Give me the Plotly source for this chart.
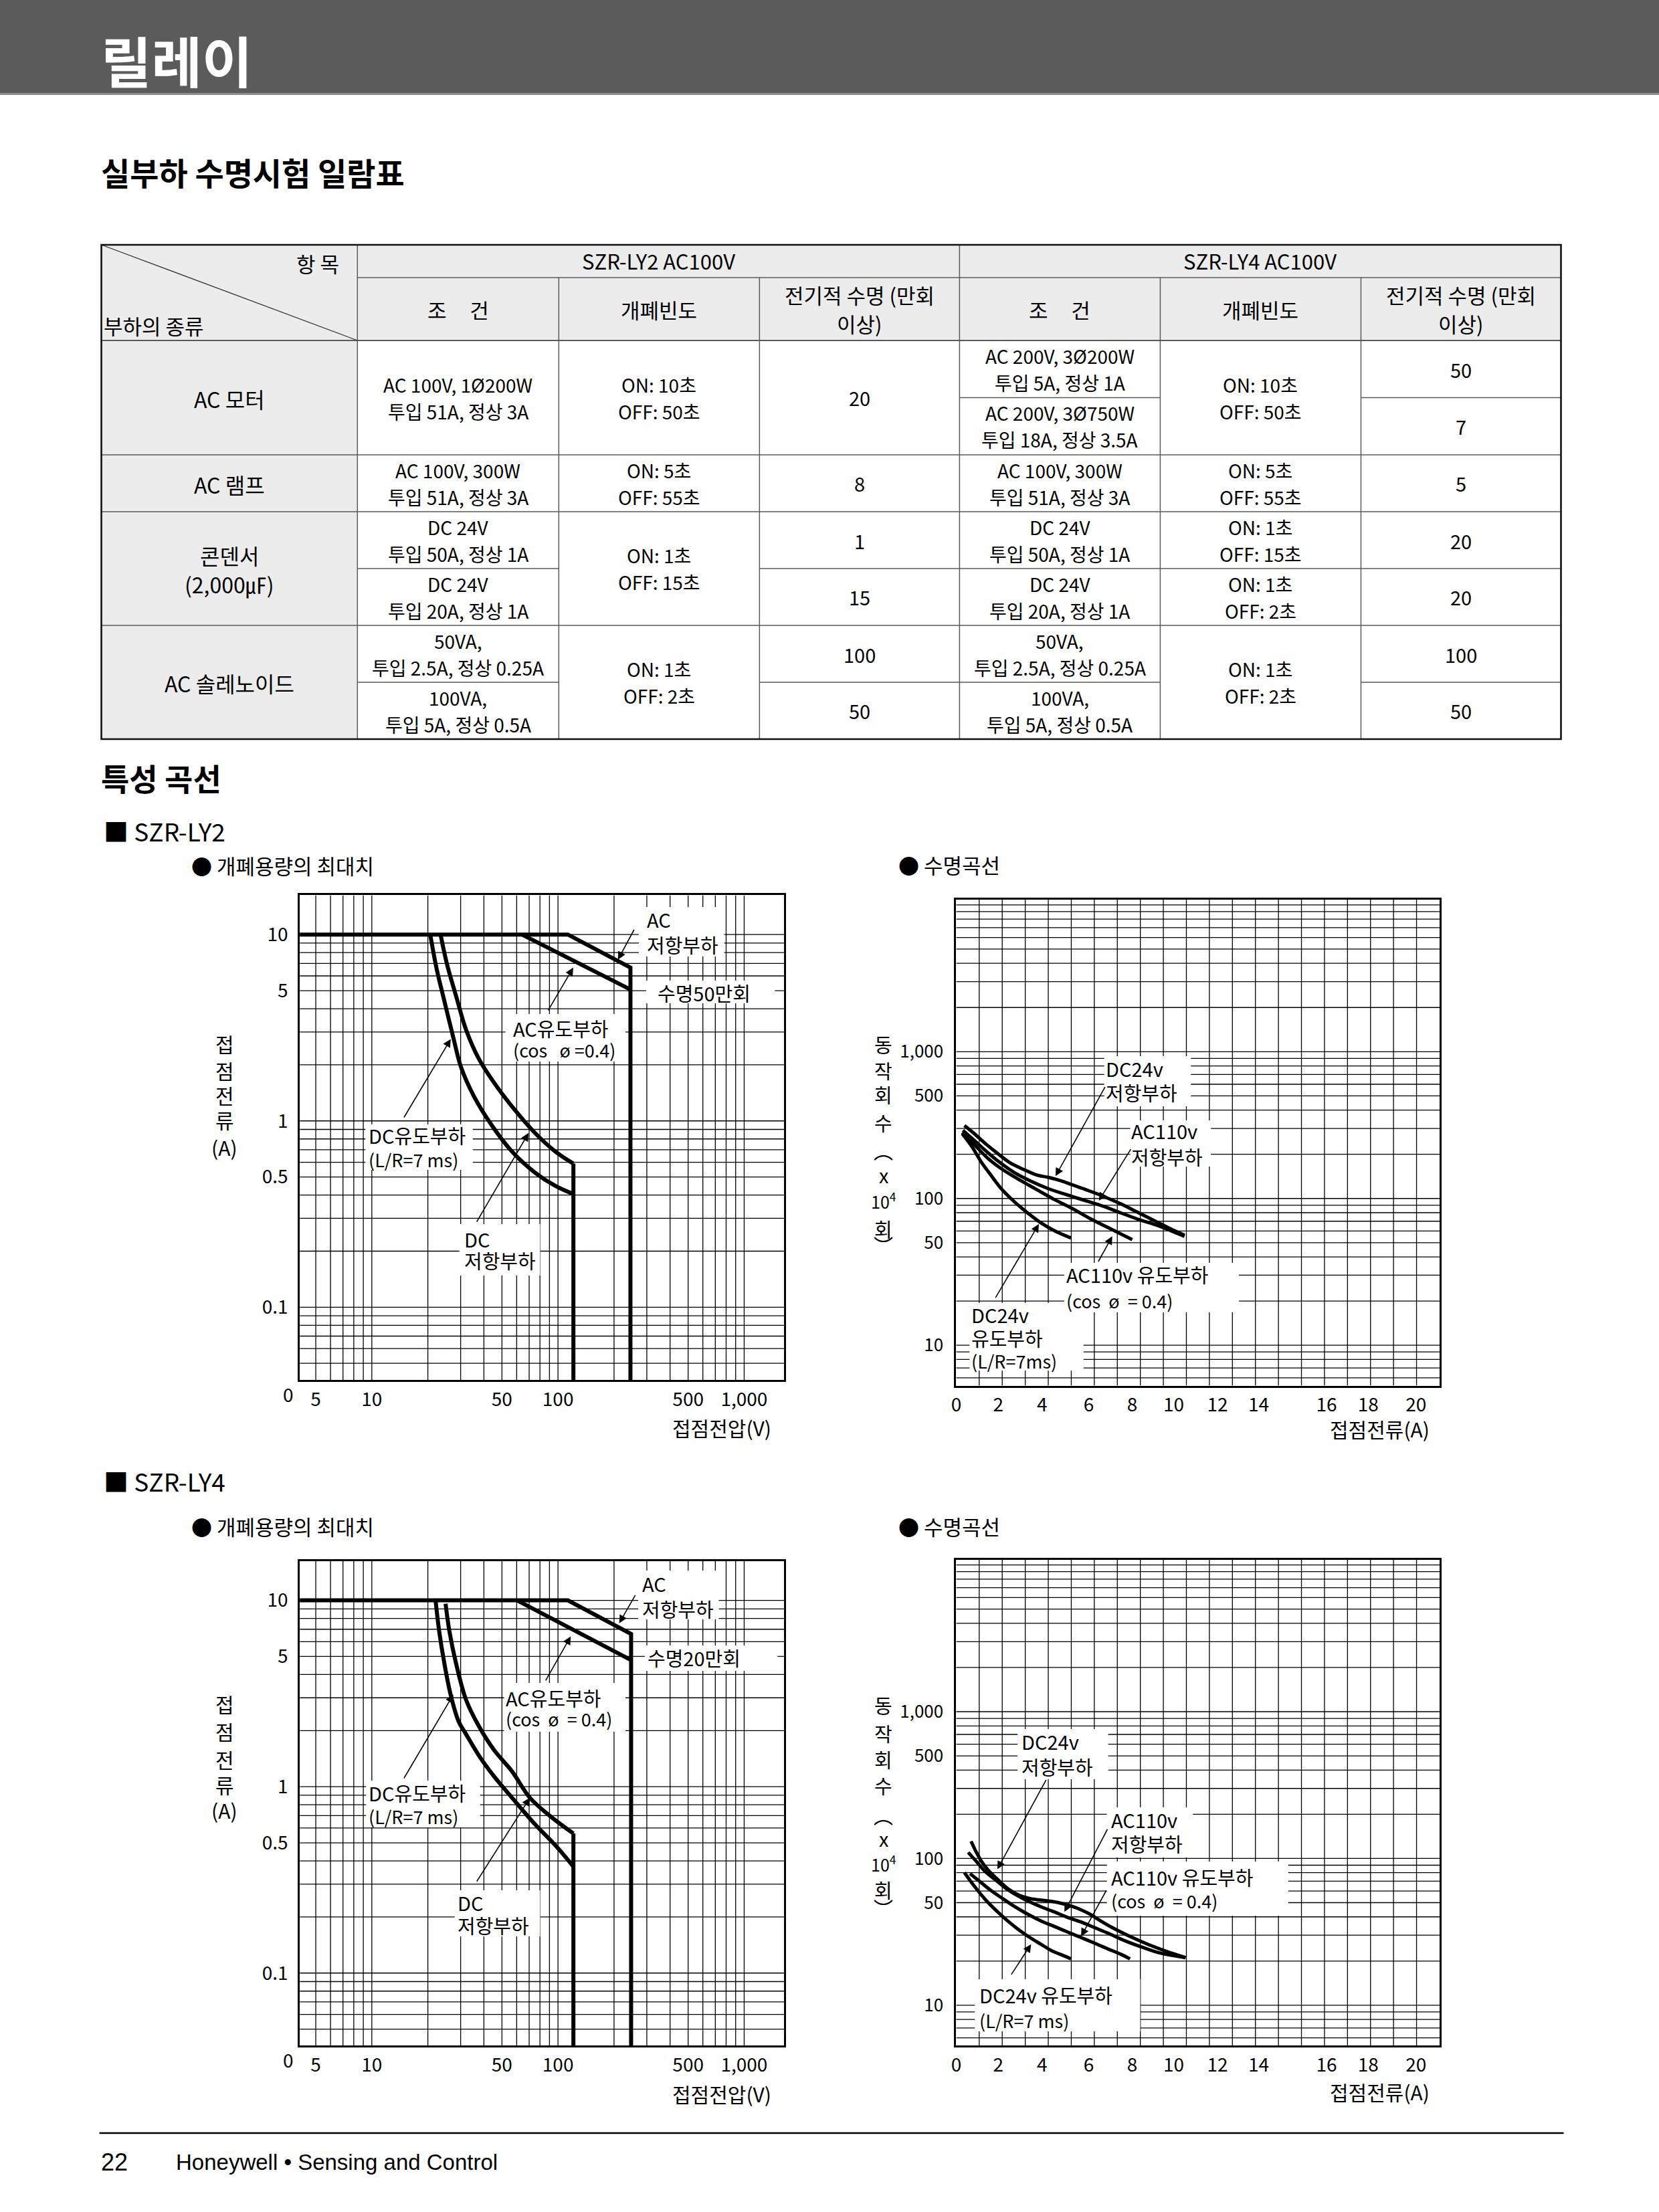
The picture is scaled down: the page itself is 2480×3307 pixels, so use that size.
import plotly.graph_objects as go

W, H = 2480, 3307
FONT = "Noto Sans CJK KR"
LATIN = "Liberation Sans, Noto Sans CJK KR"
NB = "\u00a0"

# ====================== DATA ======================
# ---- table ----
load_types = [["AC 모터"], ["AC 램프"], ["콘덴서", "(2,000㎌)"], ["AC 솔레노이드"]]
ly2_conditions = [["AC 100V, 1Ø200W", "투입 51A, 정상 3A"],
                  ["AC 100V, 300W", "투입 51A, 정상 3A"],
                  ["DC 24V", "투입 50A, 정상 1A"],
                  ["DC 24V", "투입 20A, 정상 1A"],
                  ["50VA,", "투입 2.5A, 정상 0.25A"],
                  ["100VA,", "투입 5A, 정상 0.5A"]]
ly2_frequency = [["ON: 10초", "OFF: 50초"], ["ON: 5초", "OFF: 55초"],
                 ["ON: 1초", "OFF: 15초"], ["ON: 1초", "OFF: 2초"]]
ly2_life = ["20", "8", "1", "15", "100", "50"]
ly4_conditions = [["AC 200V, 3Ø200W", "투입 5A, 정상 1A"],
                  ["AC 200V, 3Ø750W", "투입 18A, 정상 3.5A"],
                  ["AC 100V, 300W", "투입 51A, 정상 3A"],
                  ["DC 24V", "투입 50A, 정상 1A"],
                  ["DC 24V", "투입 20A, 정상 1A"],
                  ["50VA,", "투입 2.5A, 정상 0.25A"],
                  ["100VA,", "투입 5A, 정상 0.5A"]]
ly4_frequency = [["ON: 10초", "OFF: 50초"], ["ON: 5초", "OFF: 55초"],
                 ["ON: 1초", "OFF: 15초"], ["ON: 1초", "OFF: 2초"], ["ON: 1초", "OFF: 2초"]]
ly4_life = ["50", "7", "5", "20", "20", "100", "50"]
group_headers = ["SZR-LY2 AC100V", "SZR-LY4 AC100V"]
sub_headers = [["조" + NB * 5 + "건"], ["개폐빈도"], ["전기적 수명 (만회", "이상)"]]

# ---- switching capacity charts (V, A) ----
cap_xticks = [5, 10, 50, 100, 500, 1000]
cap_xticktext = ["5", "10", "50", "100", "500", "1,000"]
cap_yticks = [0.1, 0.5, 1, 5, 10]
cap_yticktext = ["0.1", "0.5", "1", "5", "10"]
cap_xgrid = [5, 6, 7, 8, 9, 10, 20, 30, 40, 50, 60, 70, 80, 90,
             100, 200, 300, 400, 500, 600, 700, 800, 900, 1000]
cap_ygrid = [0.05, 0.06, 0.07, 0.08, 0.09, 0.1, 0.2, 0.3, 0.4, 0.5, 0.6, 0.7, 0.8, 0.9,
             1, 2, 3, 4, 5, 6, 7, 8, 9, 10]

ly2_ac_res_v = [4.1, 113, 245, 245]
ly2_ac_res_a = [10, 10, 6.65, 0.04]
ly2_ac_ind_v = [64, 245]
ly2_ac_ind_a = [10, 5.07]
ly2_dc_res_v = [23.4, 25.3, 28.3, 32.1, 37.6, 45.4, 56.6, 75.2, 96.8, 121, 121]
ly2_dc_res_a = [10, 6.98, 4.71, 3.08, 2.15, 1.60, 1.195, 0.862, 0.685, 0.59, 0.04]
ly2_dc_ind_v = [20.6, 22.3, 24.5, 27.4, 30.1, 35.3, 44.0, 56.6, 75.2, 96.8, 121]
ly2_dc_ind_a = [10, 6.54, 4.42, 2.80, 1.95, 1.36, 0.95, 0.685, 0.528, 0.448, 0.405]

ly4_ac_res_v = [4.1, 113, 247, 247]
ly4_ac_res_a = [10, 10, 6.6, 0.04]
ly4_ac_ind_v = [60.3, 247]
ly4_ac_ind_a = [10, 4.78]
ly4_dc_res_v = [24.9, 26.1, 28.3, 32.1, 37.6, 45.4, 56.6, 70.6, 91, 121, 121]
ly4_dc_res_a = [9.6, 6.84, 4.62, 2.92, 2.11, 1.57, 1.21, 0.873, 0.694, 0.561, 0.04]
ly4_dc_ind_v = [22.0, 23.0, 24.5, 26.5, 29.2, 32.1, 37.6, 45.4, 56.6, 75.2, 96.8, 121]
ly4_dc_ind_a = [10, 6.84, 4.62, 3.12, 2.25, 1.91, 1.47, 1.134, 0.873, 0.629, 0.485, 0.373]

# ---- life curve charts (A in grid units, x10^4 operations) ----
life_xtick_pos = [0, 1.83, 3.73, 5.76, 7.65, 9.45, 11.35, 13.14, 16.09, 17.9, 19.98]
life_xticktext = ["0", "2", "4", "6", "8", "10", "12", "14", "16", "18", "20"]
life_yticks = [10, 50, 100, 500, 1000]
life_yticktext = ["10", "50", "100", "500", "1,000"]
life_xgrid = list(range(1, 21))
life_ygrid = [6, 7, 8, 9, 10, 20, 30, 40, 50, 60, 70, 80, 90, 100, 200, 300, 400, 500,
              600, 700, 800, 900, 1000, 2000, 3000, 4000, 5000, 6000, 7000, 8000, 9000, 10000]

ly2_dc24_res_x = [0.357, 0.792, 1.274, 1.757, 2.337, 2.916, 3.495, 3.978, 4.365, 4.944, 5.62, 6.39, 7.165, 7.94, 8.71, 9.29, 9.92]
ly2_dc24_res_n = [314, 276, 236, 205, 175, 158, 144.5, 139.5, 134.6, 125.6, 115, 103.5, 91.6, 79.6, 69.3, 62.4, 56.2]
ly2_ac110_res_x = [0.29, 0.792, 1.274, 1.854, 2.53, 3.206, 3.978, 4.847, 5.62, 6.39, 7.165, 7.94, 8.71, 9.29, 9.92]
ly2_ac110_res_n = [291, 248, 212, 178, 150, 132, 117, 105.4, 96.6, 88.5, 79.6, 71.8, 65.8, 60.7, 55.2]
ly2_ac110_ind_x = [0.261, 0.792, 1.371, 1.95, 2.723, 3.495, 4.268, 5.04, 5.813, 6.585, 7.165, 7.648]
ly2_ac110_ind_n = [281, 232, 188, 160, 134.6, 115, 98.3, 85.4, 73, 63.5, 57.2, 52.4]
ly2_dc24_ind_x = [0.261, 0.695, 1.081, 1.468, 1.95, 2.53, 3.109, 3.689, 4.268, 4.99]
ly2_dc24_ind_n = [276, 224, 178, 147, 117, 94.9, 79.6, 68.1, 60.3, 53.8]

ly4_dc24_res_x = [0.647, 0.840, 1.081, 1.371, 1.757, 2.240, 2.723, 3.206, 3.689, 4.171, 4.654, 5.041, 5.427, 5.813, 6.199, 6.779, 7.551, 8.324, 9.096, 9.965]
ly4_dc24_res_n = [130.9, 113, 96.5, 83.9, 73, 62.3, 56.2, 53.3, 52, 50.9, 49.1, 47.1, 44.7, 41.7, 38.2, 33.8, 29.4, 26, 23.4, 21.1]
ly4_ac110_res_x = [0.521, 0.888, 1.275, 1.757, 2.240, 2.723, 3.206, 3.689, 4.268, 4.847, 5.427, 6.006, 6.585, 7.358, 8.131, 8.903, 9.965]
ly4_ac110_res_n = [109.9, 94.9, 81, 70.5, 61.2, 55.2, 50.5, 46.8, 43.2, 39.6, 36.9, 33.8, 31, 27.4, 24.7, 22.6, 21.1]
ly4_ac110_ind_x = [0.599, 0.985, 1.468, 1.950, 2.530, 3.109, 3.689, 4.268, 4.847, 5.427, 6.006, 6.585, 7.165, 7.551]
ly4_ac110_ind_n = [78.8, 70.5, 61.2, 54.2, 47.1, 41.7, 37.5, 34.4, 31.5, 28.9, 26.5, 24.2, 22.2, 20.7]
ly4_dc24_ind_x = [0.357, 0.792, 1.275, 1.757, 2.240, 2.723, 3.206, 3.689, 4.171, 4.654, 4.992]
ly4_dc24_ind_n = [80.2, 64.6, 52.3, 43.9, 37.5, 32.6, 28.9, 26, 23.4, 21.8, 20.7]

# ====================== LAYOUT HELPERS ======================
def pdx(x):
    return x / W


def pdy(y):
    return 1 - y / H


fig = go.Figure()
shapes, annotations = [], []
layout = {}


def txt(x, y, s, size=28, anchor="left", color="black", family=FONT, yanchor="middle"):
    annotations.append(dict(x=pdx(x), y=pdy(y), xref="paper", yref="paper", text=s,
                            showarrow=False, xanchor=anchor, yanchor=yanchor, borderpad=0,
                            font=dict(family=family, size=size, color=color)))


def lines_txt(x, y, lines, size, spacing, anchor="center"):
    n = len(lines)
    for k, s in enumerate(lines):
        txt(x, y + (k - (n - 1) / 2) * spacing, s, size, anchor=anchor)


def rect(x0, y0, x1, y1, fill, layer="below", line=None):
    shapes.append(dict(type="rect", xref="paper", yref="paper", x0=pdx(x0), x1=pdx(x1),
                       y0=pdy(y0), y1=pdy(y1), fillcolor=fill, layer=layer,
                       line=line or dict(width=0)))


def seg(x0, y0, x1, y1, color="#555555", width=1.5):
    shapes.append(dict(type="line", xref="paper", yref="paper", x0=pdx(x0), x1=pdx(x1),
                       y0=pdy(y0), y1=pdy(y1), line=dict(color=color, width=width)))


def arrow(tail, head):
    annotations.append(dict(x=pdx(head[0]), y=pdy(head[1]), xref="paper", yref="paper",
                            ax=tail[0] - head[0], ay=tail[1] - head[1], text="",
                            showarrow=True, arrowhead=2, arrowsize=1.5, arrowwidth=1.6,
                            arrowcolor="black", standoff=0))


# ====================== HEADER ======================
rect(-10, -10, W + 10, 139, "#5b5b5b")
rect(-10, 139, W + 10, 142, "#8e8e8e")
txt(142, 88, "<b>릴레이</b>", 82, color="white")
txt(142, 256, "<b>실부하 수명시험 일람표</b>", 47)

# ====================== TABLE ======================
col_edges = [144, 528, 830, 1131, 1431, 1732, 2033, 2333]
row_edges = [509, 594.5, 680, 765, 850, 935, 1020, 1105]
T_TOP, T_H1 = 366, 415
SHADE = "#ececec"
rect(144, T_TOP, 2333, 509, SHADE)
rect(144, 509, 528, 1105, SHADE)

# spans (structure of merged cells)
load_spans = [(0, 2), (2, 3), (3, 5), (5, 7)]
ly2_cond_spans = [(0, 2), (2, 3), (3, 4), (4, 5), (5, 6), (6, 7)]
ly2_freq_spans = [(0, 2), (2, 3), (3, 5), (5, 7)]
ly4_cond_spans = [(0, 1), (1, 2), (2, 3), (3, 4), (4, 5), (5, 6), (6, 7)]
ly4_freq_spans = [(0, 2), (2, 3), (3, 4), (4, 5), (5, 7)]

GRID_C = "#5a5a5a"
seg(528, T_H1, 2333, T_H1, GRID_C)
for ci, spans in [(0, load_spans), (1, ly2_cond_spans), (2, ly2_freq_spans), (3, ly2_cond_spans),
                  (4, ly4_cond_spans), (5, ly4_freq_spans), (6, ly4_cond_spans)]:
    for (r0, r1) in spans:
        if r0 > 0:
            seg(col_edges[ci], row_edges[r0], col_edges[ci + 1], row_edges[r0], GRID_C)
seg(144, 509, 2333, 509, GRID_C, 1.8)
seg(528, T_TOP, 528, 1105, GRID_C)
seg(1431, T_TOP, 1431, 1105, GRID_C)
for xe in [830, 1131, 1732, 2033]:
    seg(xe, T_H1, xe, 1105, GRID_C)
seg(144, T_TOP, 528, 509, "#333333", 1.3)
rect(144, T_TOP, 2333, 1105, "rgba(0,0,0,0)", layer="above", line=dict(color="#111111", width=2.6))


def rc(span):
    return (row_edges[span[0]] + row_edges[span[1]]) / 2


def cc(ci):
    return (col_edges[ci] + col_edges[ci + 1]) / 2


txt(502, 393, "항" + NB + "목", 31, anchor="right")
txt(146, 486, "부하의 종류", 31, anchor="left")
txt((528 + 1431) / 2, 390, group_headers[0], 31, anchor="center")
txt((1431 + 2333) / 2, 390, group_headers[1], 31, anchor="center")
for base in [1, 4]:
    for k, lines in enumerate(sub_headers):
        lines_txt(cc(base + k), 462, lines, 31, 43)

for span, lines in zip(load_spans, load_types):
    lines_txt(cc(0), rc(span) + 1, lines, 32, 43)
for span, lines in zip(ly2_cond_spans, ly2_conditions):
    lines_txt(cc(1), rc(span), lines, 28, 40)
for span, lines in zip(ly2_freq_spans, ly2_frequency):
    lines_txt(cc(2), rc(span), lines, 28, 40)
for span, v in zip(ly2_cond_spans, ly2_life):
    txt(cc(3), rc(span), v, 29, anchor="center")
for span, lines in zip(ly4_cond_spans, ly4_conditions):
    lines_txt(cc(4), rc(span), lines, 28, 40)
for span, lines in zip(ly4_freq_spans, ly4_frequency):
    lines_txt(cc(5), rc(span), lines, 28, 40)
for span, v in zip(ly4_cond_spans, ly4_life):
    txt(cc(6), rc(span), v, 29, anchor="center")

# ====================== SECTION TITLES ======================
txt(142, 1162, "<b>특성 곡선</b>", 46)
txt(146, 1242, "■ SZR-LY2", 37)
txt(146, 2214, "■ SZR-LY4", 37)
txt(278, 1293, "● 개폐용량의 최대치", 31)
txt(278, 2281, "● 개폐용량의 최대치", 31)
txt(1338, 1292, "● 수명곡선", 31)
txt(1338, 2281, "● 수명곡선", 31)

# ====================== CHARTS ======================
AXCOMMON = dict(showline=True, linecolor="black", linewidth=3, mirror=True, ticks="",
                showgrid=False, zeroline=False, fixedrange=True, tickmode="array")


def setup_axes(idx, box, xtype, xr, yr, xtv, xtt, ytv, ytt, ystand, ysize):
    x0, y0, x1, y1 = box
    sfx = "" if idx == 1 else str(idx)
    layout["xaxis" + sfx] = dict(domain=[pdx(x0), pdx(x1)], anchor="y" + sfx, type=xtype,
                                 range=xr, tickvals=xtv, ticktext=xtt, ticklabelstandoff=2,
                                 tickfont=dict(family=FONT, size=28, color="black"), **AXCOMMON)
    layout["yaxis" + sfx] = dict(domain=[pdy(y1), pdy(y0)], anchor="x" + sfx, type="log",
                                 range=yr, tickvals=ytv, ticktext=ytt, ticklabelstandoff=ystand,
                                 tickfont=dict(family=FONT, size=ysize, color="black"), **AXCOMMON)
    return "x" + sfx, "y" + sfx


def add_grid(xid, yid, xgrid, ygrid, xext, yext):
    xs, ys = [], []
    for v in xgrid:
        xs += [v, v, None]
        ys += [yext[0], yext[1], None]
    for v in ygrid:
        xs += [xext[0], xext[1], None]
        ys += [v, v, None]
    fig.add_trace(go.Scatter(x=xs, y=ys, mode="lines", xaxis=xid, yaxis=yid,
                             line=dict(color="black", width=1.3), hoverinfo="skip", showlegend=False))


def add_curve(xid, yid, xs, ys, width, shape="linear"):
    fig.add_trace(go.Scatter(x=xs, y=ys, mode="lines", xaxis=xid, yaxis=yid,
                             line=dict(color="black", width=width, shape=shape),
                             hoverinfo="skip", showlegend=False))


CAP_XR = [0.6132, 3.2138]
CAP_YR = [-1.390, 1.211]
LIFE_XR = [0, 21]
LIFE_YR = [0.725, 4.036]

cap_charts = [
    (1, (441.6, 1338.4, 1167.7, 2063.0),
     (ly2_ac_res_v, ly2_ac_res_a), (ly2_ac_ind_v, ly2_ac_ind_a),
     (ly2_dc_res_v, ly2_dc_res_a), (ly2_dc_ind_v, ly2_dc_ind_a)),
    (3, (441.6, 2333.8, 1167.7, 3058.4),
     (ly4_ac_res_v, ly4_ac_res_a), (ly4_ac_ind_v, ly4_ac_ind_a),
     (ly4_dc_res_v, ly4_dc_res_a), (ly4_dc_ind_v, ly4_dc_ind_a)),
]
for idx, box, acr, aci, dcr, dci in cap_charts:
    xid, yid = setup_axes(idx, box, "log", CAP_XR, CAP_YR, cap_xticks, cap_xticktext,
                          cap_yticks, cap_yticktext, 9, 28)
    add_grid(xid, yid, cap_xgrid, cap_ygrid, [10 ** CAP_XR[0], 10 ** CAP_XR[1]],
             [10 ** CAP_YR[0], 10 ** CAP_YR[1]])
    add_curve(xid, yid, acr[0], acr[1], 6)
    add_curve(xid, yid, aci[0], aci[1], 6)
    add_curve(xid, yid, dcr[0][:-1], dcr[1][:-1], 6, "spline")
    add_curve(xid, yid, dcr[0][-2:], dcr[1][-2:], 6)
    add_curve(xid, yid, dci[0], dci[1], 6, "spline")

life_charts = [
    (2, (1426, 1345, 2150.9, 2071.5),
     [(ly2_dc24_res_x, ly2_dc24_res_n), (ly2_ac110_res_x, ly2_ac110_res_n),
      (ly2_ac110_ind_x, ly2_ac110_ind_n), (ly2_dc24_ind_x, ly2_dc24_ind_n)]),
    (4, (1426, 2331.7, 2150.9, 3058.2),
     [(ly4_dc24_res_x, ly4_dc24_res_n), (ly4_ac110_res_x, ly4_ac110_res_n),
      (ly4_ac110_ind_x, ly4_ac110_ind_n), (ly4_dc24_ind_x, ly4_dc24_ind_n)]),
]
for idx, box, curves in life_charts:
    xid, yid = setup_axes(idx, box, "linear", LIFE_XR, LIFE_YR, life_xtick_pos, life_xticktext,
                          life_yticks, life_yticktext, 11, 26)
    add_grid(xid, yid, life_xgrid, life_ygrid, LIFE_XR, [10 ** LIFE_YR[0], 10 ** LIFE_YR[1]])
    for cx, cy in curves:
        add_curve(xid, yid, cx, cy, 5, "spline")

# ---- chart label boxes, texts, arrows ----
LBL = 29
CSZ = 27
cos1 = "(cos" + NB * 3 + "ø" + NB + "=0.4)"
cos2 = "(cos" + NB * 2 + "ø" + NB * 2 + "= 0.4)"

# chart 1 (LY2 capacity)
for b in [(950, 1356, 1078, 1430), (961, 1466, 1154, 1500), (750, 1516, 930, 1587),
          (540, 1681, 701, 1749), (681, 1830, 802, 1907)]:
    rect(*b, "white", layer="above")
txt(961, 1374, "AC", LBL); txt(961, 1412, "저항부하", LBL)
txt(977, 1484, "수명50만회", LBL)
txt(760, 1537, "AC유도부하", LBL); txt(760, 1569, cos1, CSZ)
txt(544, 1697, "DC유도부하", LBL); txt(544, 1733, "(L/R=7 ms)", CSZ)
txt(687, 1852, "DC", LBL); txt(687, 1884, "저항부하", LBL)
arrow((943.6, 1388.5), (918.7, 1434.8))
arrow((813.4, 1511.9), (851.7, 1446.6))
arrow((597.2, 1672), (668, 1553.4))
arrow((706.3, 1828.2), (784.7, 1693.8))

# chart 3 (LY4 capacity)
for b in [(949, 2348, 1070, 2421), (959, 2460, 1158, 2498), (748, 2516, 930, 2589),
          (541, 2662, 712, 2732), (674, 2826, 802, 2895)]:
    rect(*b, "white", layer="above")
txt(954, 2367, "AC", LBL); txt(954, 2405, "저항부하", LBL)
txt(962, 2478, "수명20만회", LBL)
txt(749, 2538, "AC유도부하", LBL); txt(749, 2569, cos2, CSZ)
txt(544, 2680, "DC유도부하", LBL); txt(544, 2715, "(L/R=7 ms)", CSZ)
txt(677, 2844, "DC", LBL); txt(677, 2878, "저항부하", LBL)
arrow((945.5, 2383.3), (920.6, 2426.8))
arrow((809.6, 2513.8), (847.9, 2446.5))
arrow((597.2, 2660), (671.8, 2533.5))
arrow((706.3, 2814.3), (786.7, 2687.7))

# chart 2 (LY2 life)
for b in [(1648, 1579, 1778, 1654), (1687, 1675, 1808, 1744), (1588, 1888, 1850, 1962),
          (1446, 1948, 1617, 2049)]:
    rect(*b, "white", layer="above")
txt(1649, 1597, "DC24v", LBL); txt(1649, 1633, "저항부하", LBL)
txt(1687, 1690, "AC110v", LBL); txt(1687, 1729, "저항부하", LBL)
txt(1590, 1905, "AC110v 유도부하", LBL); txt(1590, 1945, cos2, CSZ)
txt(1448, 1965, "DC24v", LBL); txt(1448, 2000, "유도부하", LBL); txt(1448, 2035, "(L/R=7ms)", CSZ)
arrow((1649.8, 1623.7), (1575, 1758.3))
arrow((1688.6, 1716.6), (1640, 1795))
arrow((1638.4, 1887.5), (1660, 1848.3))
arrow((1484.4, 1941.4), (1550, 1830))

# chart 4 (LY4 life)
for b in [(1518, 2585, 1654, 2660), (1652, 2702, 1781, 2777), (1652, 2783, 1924, 2864),
          (1454, 2959, 1702, 3037)]:
    rect(*b, "white", layer="above")
txt(1523, 2603, "DC24v", LBL); txt(1523, 2641, "저항부하", LBL)
txt(1657, 2720, "AC110v", LBL); txt(1657, 2756, "저항부하", LBL)
txt(1657, 2806, "AC110v 유도부하", LBL); txt(1657, 2841, cos2, CSZ)
txt(1460, 2982, "DC24v 유도부하", LBL); txt(1460, 3020, "(L/R=7 ms)", CSZ)
arrow((1561.4, 2659.7), (1487.7, 2794.6))
arrow((1653.3, 2733.3), (1588.3, 2858.3))
arrow((1651.7, 2825), (1613.3, 2895))
arrow((1507.8, 2953.4), (1538.3, 2906.7))

# ---- axis titles ----
cap_ytitle = ["접", "점", "전", "류", "(A)"]
for ch, yy in zip(cap_ytitle, [1560, 1600, 1637, 1674, 1715]):
    txt(329, yy, ch, 30, anchor="center")
for ch, yy in zip(cap_ytitle, [2547, 2588, 2630, 2668, 2706]):
    txt(329, yy, ch, 30, anchor="center")
life_ytitle = ["동", "작", "회", "수", "︵", "x", "10<sup>4</sup>", "회", "︶"]
life_ysize = [29, 29, 29, 29, 29, 29, 25, 29, 29]
for ch, sz, yy in zip(life_ytitle, life_ysize, [1561, 1600, 1636, 1678, 1720, 1756, 1795, 1837, 1861]):
    txt(1317, yy, ch, sz, anchor="center")
for ch, sz, yy in zip(life_ytitle, life_ysize, [2549, 2591, 2630, 2669, 2714, 2748, 2786, 2825, 2852]):
    txt(1317, yy, ch, sz, anchor="center")
txt(424, 2084, "0", 28, anchor="center")
txt(424, 3079, "0", 28, anchor="center")
txt(1150, 2134, "접점전압(V)", 30, anchor="right")
txt(1150, 3130, "접점전압(V)", 30, anchor="right")
txt(2137, 2136, "접점전류(A)", 30, anchor="right")
txt(2137, 3127, "접점전류(A)", 30, anchor="right")

# ====================== FOOTER ======================
seg(141, 3189, 2337, 3189, "black", 2.6)
txt(142, 3232, "22", 36, family=LATIN)
txt(255, 3232, "Honeywell • Sensing and Control", 33, family=LATIN)

fig.update_layout(width=W, height=H, margin=dict(l=0, r=0, t=0, b=0, pad=0),
                  paper_bgcolor="white", plot_bgcolor="white", showlegend=False,
                  font=dict(family=FONT, color="black"),
                  shapes=shapes, annotations=annotations, **layout)

POST = ("document.documentElement.style.margin='0';document.body.style.margin='0';"
        "document.body.style.padding='0';document.body.style.overflow='hidden';"
        "var g=document.querySelector('.plotly-graph-div');"
        "if(g){g.style.position='absolute';g.style.left='0px';g.style.top='0px';}"
        "window.scrollTo(0,0);")
fig.write_html("out.html", config={"displayModeBar": False, "staticPlot": True}, post_script=POST)
